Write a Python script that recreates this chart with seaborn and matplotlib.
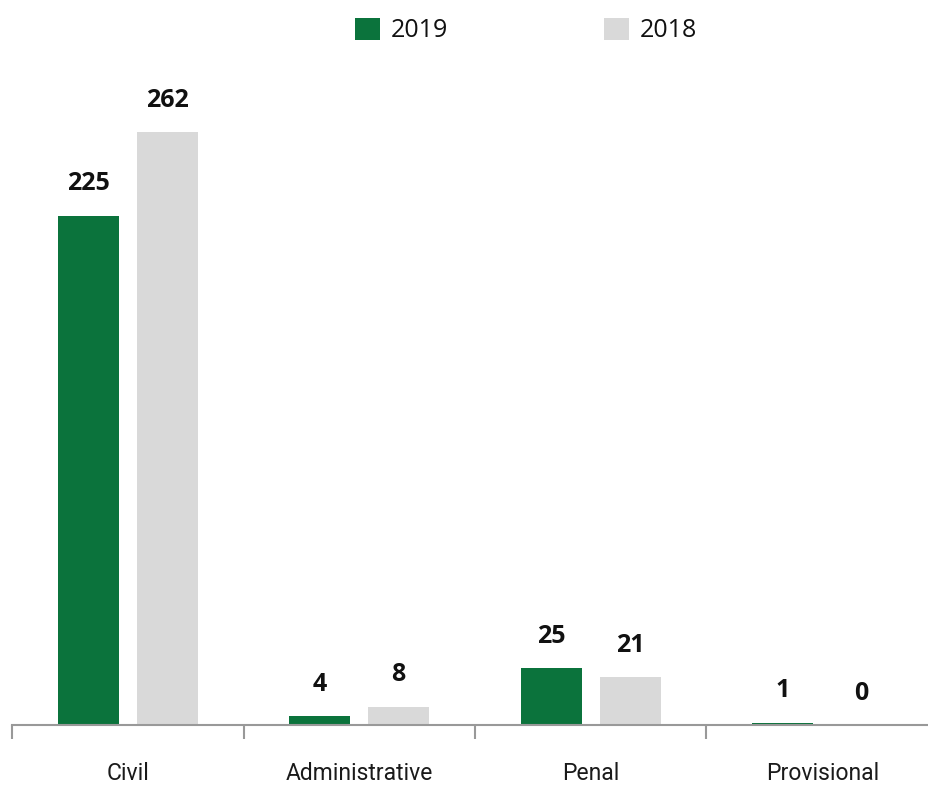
import numpy as np
import pandas as pd
import matplotlib
matplotlib.use("Agg")
import matplotlib.pyplot as plt
import seaborn as sns
from matplotlib.patches import Patch

categories = ["Civil", "Administrative", "Penal", "Provisional"]
years = ["2019", "2018"]
values_2019 = [225, 4, 25, 1]
values_2018 = [262, 8, 21, 0]

df = pd.DataFrame({
    "category": categories * 2,
    "year": ["2019"] * len(categories) + ["2018"] * len(categories),
    "value": values_2019 + values_2018,
})

palette = {"2019": "#0b733c", "2018": "#d9d9d9"}

sns.set_style("white")
plt.rcParams["font.family"] = ["Open Sans", "DejaVu Sans"]

fig = plt.figure(figsize=(9.29, 7.87), dpi=100)
ax = fig.add_axes([12 / 929, 62 / 787, 926 / 929, 665 / 787])

sns.barplot(data=df, x="category", y="value", hue="year", hue_order=years,
            palette=palette, width=0.68, gap=0.224, saturation=1,
            linewidth=0, legend=False, ax=ax)

for cont in ax.containers:
    ax.bar_label(cont, padding=14, fontsize=18, fontweight="bold", color="#111111")

ax.set_xlim(-0.5, 3.5)
ax.set_ylim(0, 293.9)
ax.set_xlabel("")
ax.set_ylabel("")
ax.set_yticks([])
for s in ["top", "right", "left"]:
    ax.spines[s].set_visible(False)
ax.spines["bottom"].set_color("#999999")
ax.spines["bottom"].set_linewidth(1.5)

ax.set_xticks(np.arange(len(categories)))
ax.set_xticklabels(categories, fontsize=16.5, family=["Roboto", "DejaVu Sans"],
                   color="#1a1a1a")
ax.tick_params(axis="x", which="major", bottom=False, length=0, pad=27)
ax.set_xticks(np.arange(len(categories) + 1) - 0.5, minor=True)
ax.tick_params(axis="x", which="minor", bottom=True, length=10, width=1.5,
               color="#999999")

handles = [Patch(facecolor=palette[y], edgecolor="none", label=y) for y in years]
fig.legend(handles=handles, loc="upper center", bbox_to_anchor=(526 / 929, 1.0),
           ncol=2, frameon=False, fontsize=18, labelcolor="#111111",
           handlelength=1.0, handleheight=1.0, handletextpad=0.45,
           columnspacing=6.2, borderaxespad=0.3)

fig.savefig("out.png", dpi=100)
